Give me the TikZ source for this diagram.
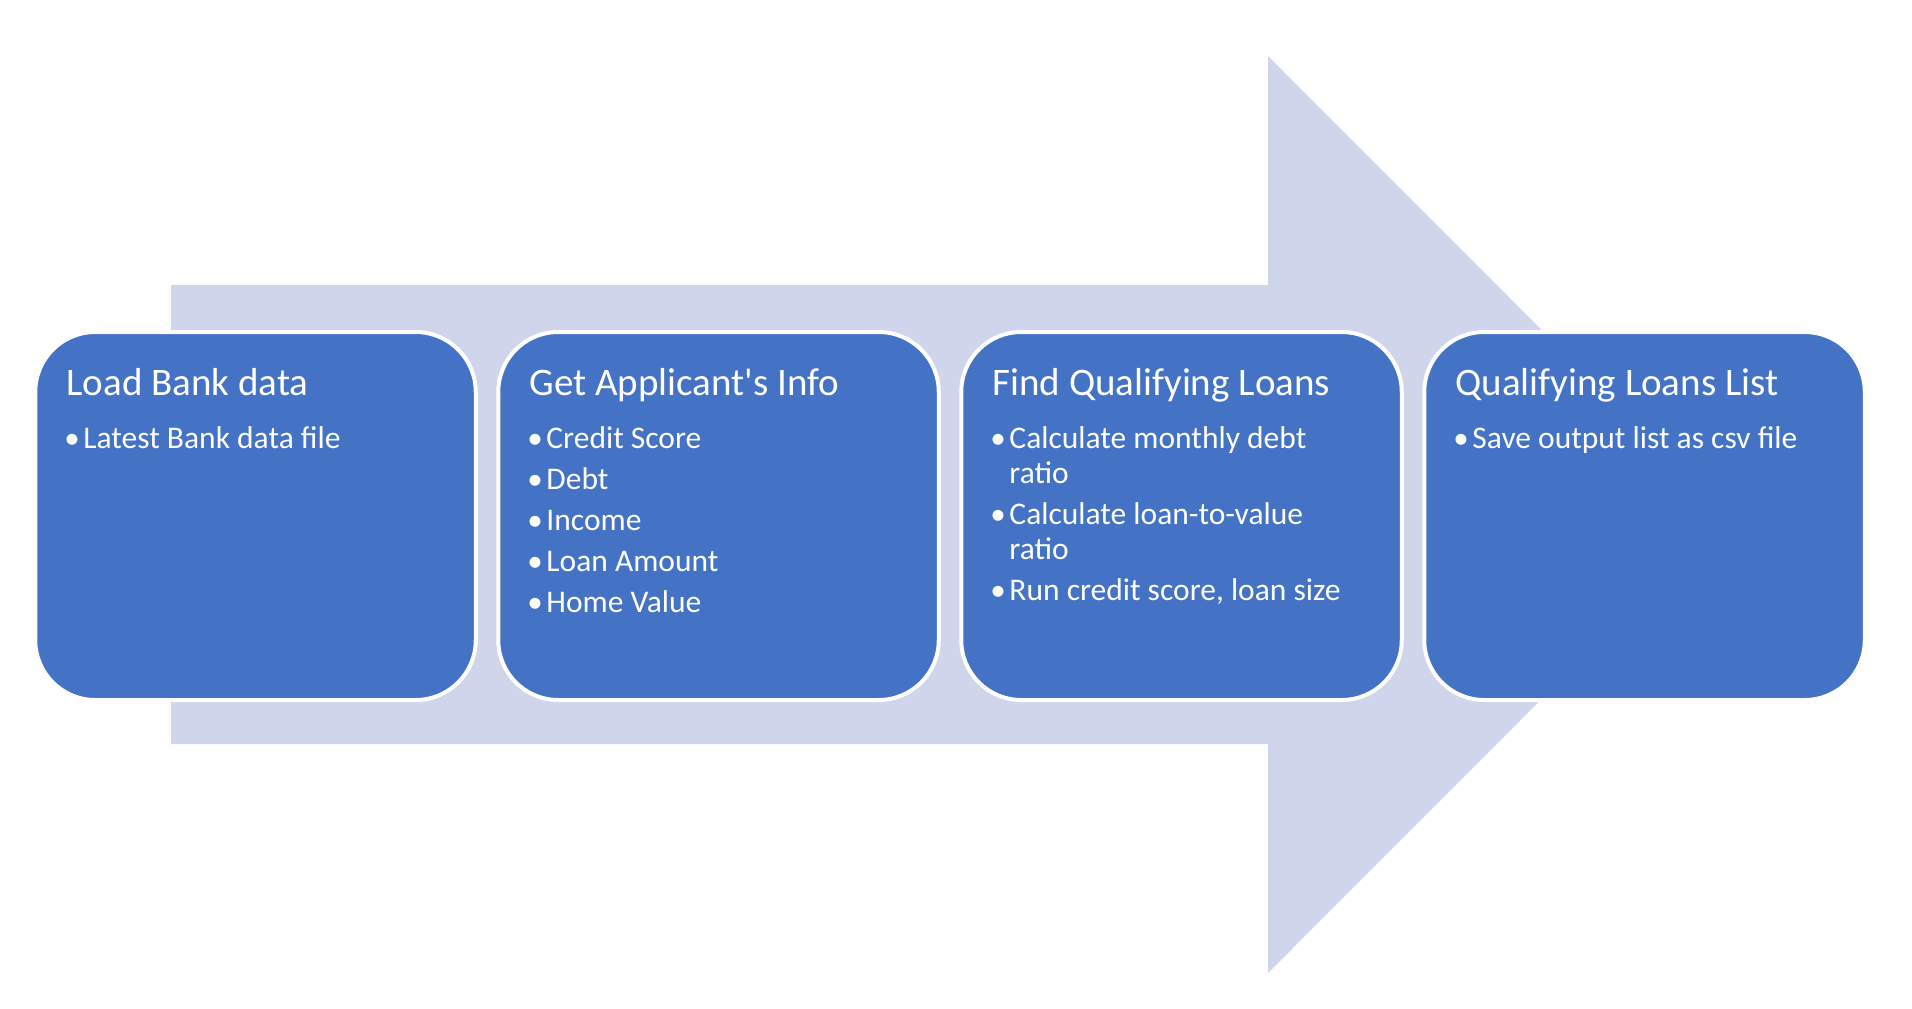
\documentclass[tikz,border=0pt]{standalone}
\usepackage{fontspec}
\setmainfont{Carlito}
\usetikzlibrary{positioning,calc}
\definecolor{arrowfill}{HTML}{CFD5EA}
\definecolor{stagefill}{HTML}{4472C4}
\newcommand{\bul}{\makebox[15pt][l]{\hspace*{-4pt}{\fontsize{31}{31}\selectfont\textbullet}}}
\newcommand{\cont}{\hspace*{15pt}}
\begin{document}
\begin{tikzpicture}[x=1pt,y=-1pt,node distance=18.5pt,
  stage/.style={draw=white,line width=4pt,fill=stagefill,rounded corners=60pt,
    minimum width=440.5pt,minimum height=368pt,inner sep=0pt},
  heading/.style={anchor=base west,text=white,inner sep=0pt,
    font=\fontsize{39}{47}\selectfont},
  items/.style={anchor=base west,text=white,inner sep=0pt,align=left,
    font=\fontsize{31.5}{35}\selectfont}]
\useasboundingbox (0,0) rectangle (1912,1009);
% big arrow behind the stages
\coordinate (S1) at (171,285);
\coordinate (S2) at (1268,285);
\coordinate (H1) at (1268,56);
\coordinate (T) at (1726,514.5);
\coordinate (H2) at (1268,973);
\coordinate (S3) at (1268,744);
\coordinate (S4) at (171,744);
\fill[arrowfill] (S1) -- (S2) -- (H1) -- (T) -- (H2) -- (S3) -- (S4) -- cycle;
% stages
\node[stage] (load) at (255.5,516) {};
\node[stage,right=of load] (info) {};
\node[stage,right=of info] (find) {};
\node[stage,right=of find] (list) {};
% headings
\node[heading] (loadT) at ($(load.north west)+(33,65)$) {Load Bank data};
\node[heading] (infoT) at ($(info.north west)+(33,65)$) {Get Applicant\textquotesingle s Info};
\node[heading] (findT) at ($(find.north west)+(33,65)$) {Find Qualifying Loans};
\node[heading] (listT) at ($(list.north west)+(33,65)$) {Qualifying Loans List};
% bullet lists (base = last line)
\node[items] (loadL) at ($(load.north west)+(35,118)$) {\bul Latest Bank data file};
\node[items] (infoL) at ($(info.north west)+(35,282)$) {\bul Credit Score\\[6pt]
  \bul Debt\\[6pt] \bul Income\\[6pt] \bul Loan Amount\\[6pt] \bul Home Value};
\node[items] (findL) at ($(find.north west)+(35,270)$) {\bul Calculate monthly debt\\
  \cont ratio\\[6pt] \bul Calculate loan-to-value\\ \cont ratio\\[6pt]
  \bul Run credit score, loan size};
\node[items] (listL) at ($(list.north west)+(35,118)$) {\bul Save output list as csv file};
\end{tikzpicture}
\end{document}
